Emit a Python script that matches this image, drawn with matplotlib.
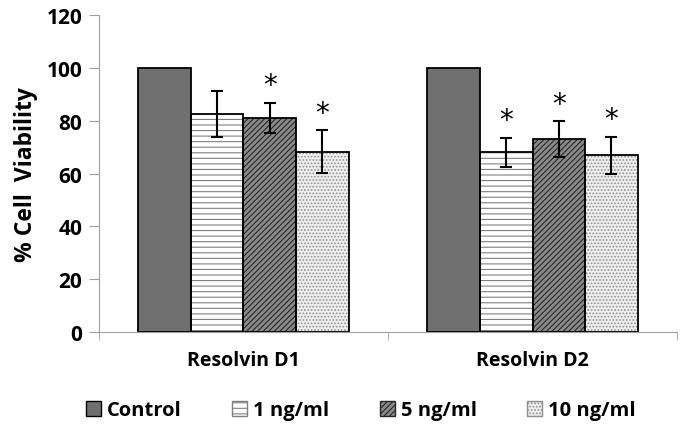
import numpy as np
import matplotlib.pyplot as plt
from matplotlib.patches import Patch

plt.rcParams['font.family'] = ['Open Sans', 'DejaVu Sans']
plt.rcParams['font.weight'] = 'bold'
plt.rcParams['hatch.linewidth'] = 0.8

groups = ['Resolvin D1', 'Resolvin D2']
series = ['Control', '1 ng/ml', '5 ng/ml', '10 ng/ml']
control = [100, 100]
ng1 = [82.5, 68]
ng5 = [81, 73]
ng10 = [68.3, 67]
err1 = [8.7, 5.5]
err5 = [5.8, 6.7]
err10 = [8, 7]
stars1 = [False, True]
stars5 = [True, True]
stars10 = [True, True]

values = [control, ng1, ng5, ng10]
errors = [None, err1, err5, err10]
stars = [None, stars1, stars5, stars10]

faces = ['#707070', 'white', '#8a8a8a', '#eeeeee']
hatches = [None, '---', '//////', '.....']
hcols = ['#707070', '#808080', '#262626', '#909090']

fig = plt.figure(figsize=(6.86, 4.31), dpi=100)
ax = fig.add_axes([0.144, 0.227, 0.843, 0.736])

x = np.arange(len(groups))
w = 0.182
for i, s in enumerate(series):
    pos = x + (i - 1.5) * w
    ax.bar(pos, values[i], w, color=faces[i], hatch=hatches[i],
           edgecolor=hcols[i], linewidth=0, zorder=2)
    ax.bar(pos, values[i], w, fill=False, edgecolor='black', linewidth=1.3, zorder=3)
    if errors[i] is not None:
        ax.errorbar(pos, values[i], yerr=errors[i], fmt='none', ecolor='black',
                    elinewidth=1.5, capsize=4, capthick=1.5, zorder=4)
        for j in range(len(groups)):
            if stars[i][j]:
                ax.text(pos[j], values[i][j] + errors[i][j] + 1.5, '*', ha='center',
                        va='bottom', fontsize=20, fontweight='normal',
                        family='DejaVu Sans')

ax.set_xlim(-0.5, 1.5)
ax.set_ylim(0, 120)
ax.set_yticks(range(0, 121, 20))
ax.set_xticks([0, 1])
ax.set_xticklabels(groups, fontsize=14, fontweight='bold')
ax.set_xticks([-0.5, 0.5, 1.5], minor=True)
ax.tick_params(axis='x', which='major', length=0, pad=13)
ax.tick_params(axis='x', which='minor', length=6, color='#a0a0a0', direction='out')
ax.tick_params(axis='y', labelsize=15, length=7, color='#a0a0a0', pad=5)
for lab in ax.get_yticklabels():
    lab.set_fontweight('bold')
ax.set_ylabel('% Cell  Viability', fontsize=16.5, fontweight='bold', labelpad=6)
for sp in ['top', 'right']:
    ax.spines[sp].set_visible(False)
for sp in ['left', 'bottom']:
    ax.spines[sp].set_color('#a0a0a0')

handles = [Patch(facecolor=faces[i], hatch=hatches[i], edgecolor=hcols[i] if i else 'black',
                 label=series[i]) for i in range(len(series))]
fig.legend(handles=handles, loc='lower center', bbox_to_anchor=(0.526, -0.02), ncol=4,
           frameon=False, fontsize=14.5, handlelength=0.75, handleheight=0.75,
           columnspacing=2.5, handletextpad=0.3)

fig.savefig('out.png', dpi=100)
